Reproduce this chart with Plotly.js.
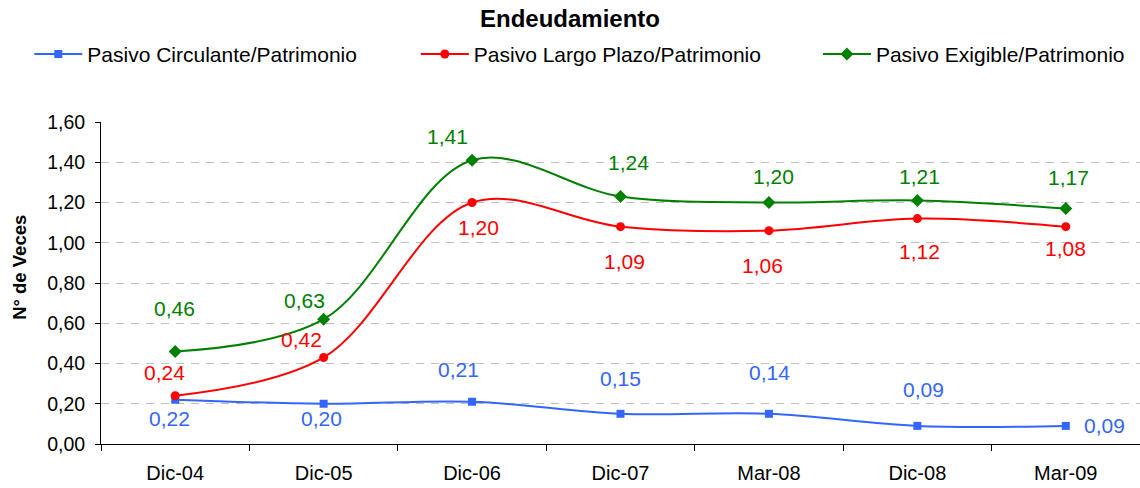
<!DOCTYPE html>
<html>
<head>
<meta charset="utf-8">
<script src="https://cdn.plot.ly/plotly-3.0.1.min.js"></script>
<style>
  body { margin: 0; background: #fff; }
  #chart { width: 1140px; height: 488px; }
</style>
</head>
<body>
<div id="chart"></div>
<script>
// Periods on the x axis
const periods = ['Dic-04', 'Dic-05', 'Dic-06', 'Dic-07', 'Mar-08', 'Dic-08', 'Mar-09'];

// Series values
const circulante = [0.22, 0.20, 0.21, 0.15, 0.15, 0.09, 0.09];
const largoPlazo = [0.24, 0.43, 1.20, 1.08, 1.06, 1.12, 1.08];
const exigible = [0.46, 0.62, 1.41, 1.23, 1.20, 1.21, 1.17];

// Data labels as printed on the chart
const circulanteLabels = ['0,22', '0,20', '0,21', '0,15', '0,14', '0,09', '0,09'];
const largoPlazoLabels = ['0,24', '0,42', '1,20', '1,09', '1,06', '1,12', '1,08'];
const exigibleLabels = ['0,46', '0,63', '1,41', '1,24', '1,20', '1,21', '1,17'];

// Y ticks
const yTicks = [0, 0.2, 0.4, 0.6, 0.8, 1.0, 1.2, 1.4, 1.6];
const yTickText = ['0,00', '0,20', '0,40', '0,60', '0,80', '1,00', '1,20', '1,40', '1,60'];

const BLUE = '#3366FF';
const RED = '#FF0000';
const GREEN = '#008000';
const FONT = 'Liberation Sans, Arial, sans-serif';

// label offsets in px [xshift, yshift]
const blueOff = [[-6, -19], [-2, -15], [-14, 32], [0, 35], [1, 41], [6, 36], [39, 0]];
const redOff = [[-11, 23], [-22, 18], [6, -25], [4, -35], [-6, -35], [2, -33], [0, -22]];
const greenOff = [[-1, 43], [-19, 19], [-25, 24], [8, 34], [5, 26], [2, 24], [3, 31]];

const traces = [
    {
        x: periods, y: circulante, name: 'Pasivo Circulante/Patrimonio',
        type: 'scatter', mode: 'lines+markers',
        line: { color: BLUE, width: 2, shape: 'spline', smoothing: 1 },
        marker: { symbol: 'square', size: 8, color: BLUE },
        legend: 'legend'
    },
    {
        x: periods, y: largoPlazo, name: 'Pasivo Largo Plazo/Patrimonio',
        type: 'scatter', mode: 'lines+markers',
        line: { color: RED, width: 2, shape: 'spline', smoothing: 1 },
        marker: { symbol: 'circle', size: 9, color: RED },
        legend: 'legend2'
    },
    {
        x: periods, y: exigible, name: 'Pasivo Exigible/Patrimonio',
        type: 'scatter', mode: 'lines+markers',
        line: { color: GREEN, width: 2, shape: 'spline', smoothing: 1 },
        marker: { symbol: 'diamond', size: 10, color: GREEN },
        legend: 'legend3'
    }
];

function makeLabels(values, labels, offsets, color) {
    return values.map((v, i) => ({
        x: periods[i], y: v, xref: 'x', yref: 'y',
        text: labels[i], showarrow: false,
        xshift: offsets[i][0], yshift: offsets[i][1],
        font: { family: FONT, size: 21, color: color }
    }));
}

const annotations = []
    .concat(makeLabels(circulante, circulanteLabels, blueOff, BLUE))
    .concat(makeLabels(largoPlazo, largoPlazoLabels, redOff, RED))
    .concat(makeLabels(exigible, exigibleLabels, greenOff, GREEN));

// y axis title placed by hand
annotations.push({
    xref: 'paper', yref: 'paper', x: -0.078, y: 0.55, xanchor: 'center', yanchor: 'middle',
    text: '<b>N° de Veces</b>', showarrow: false, textangle: -90,
    font: { family: FONT, size: 18.5, color: '#000' }
});

const legendBase = {
    orientation: 'h', yref: 'paper', y: 1.21, yanchor: 'middle', xanchor: 'left',
    font: { family: FONT, size: 21, color: '#000' },
    bgcolor: 'rgba(0,0,0,0)', itemwidth: 48
};

const layout = {
    width: 1140,
    height: 488,
    margin: { l: 101, r: 0, t: 122, b: 44 },
    paper_bgcolor: '#fff',
    plot_bgcolor: '#fff',
    font: { family: FONT, size: 18, color: '#000' },
    title: {
        text: '<b>Endeudamiento</b>',
        font: { size: 24, color: '#000' },
        x: 0.5, xref: 'container', y: 0.962, yref: 'container', yanchor: 'middle'
    },
    showlegend: true,
    legend: Object.assign({}, legendBase, { x: -0.069 }),
    legend2: Object.assign({}, legendBase, { x: 0.303 }),
    legend3: Object.assign({}, legendBase, { x: 0.690 }),
    xaxis: {
        type: 'category',
        range: [-0.5, 6.5],
        showline: true, linecolor: '#000', linewidth: 1,
        ticks: 'outside', tickson: 'boundaries', ticklen: 6, tickcolor: '#000',
        ticklabelstandoff: 11,
        showgrid: false, zeroline: false,
        tickfont: { size: 20 }
    },
    yaxis: {
        range: [0, 1.6],
        tickvals: yTicks, ticktext: yTickText,
        showline: true, linecolor: '#000', linewidth: 1,
        ticks: 'outside', ticklen: 5, tickcolor: '#000',
        ticklabelstandoff: 6,
        showgrid: true, gridcolor: '#bfbfbf', gridwidth: 1, griddash: '8px,7px',
        zeroline: false,
        tickfont: { size: 19.5 }
    },
    annotations: annotations
};

Plotly.newPlot('chart', traces, layout, { displayModeBar: false, staticPlot: true });
</script>
</body>
</html>
